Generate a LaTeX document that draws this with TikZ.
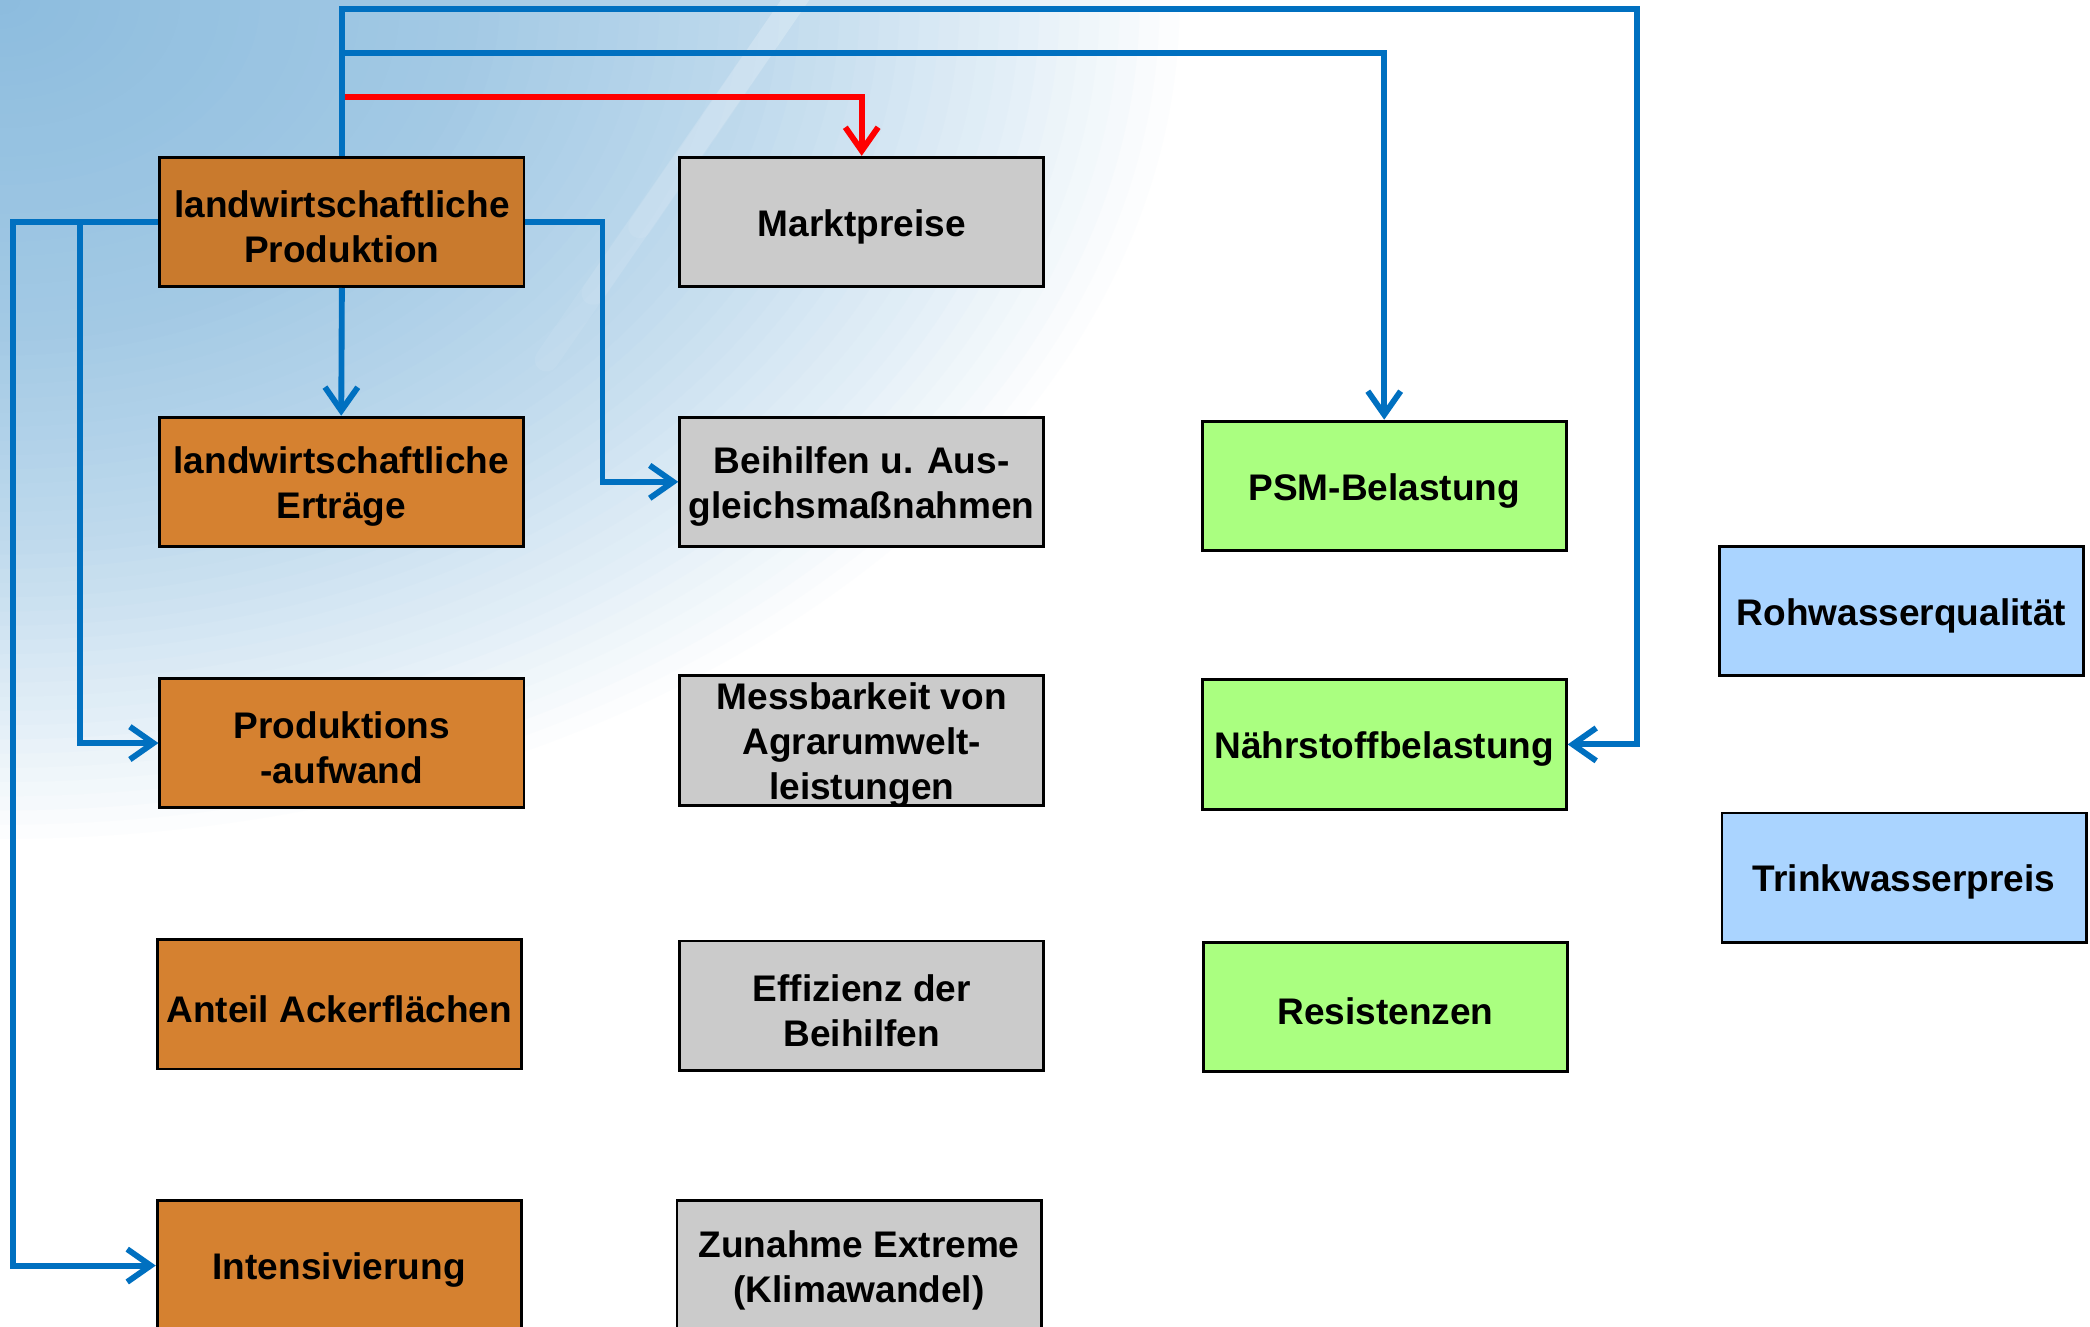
\documentclass[tikz,border=0pt]{standalone}
\usepackage{fontspec}
\setmainfont{Liberation Sans}
\usetikzlibrary{arrows.meta}
\definecolor{orng}{HTML}{D58130}
\definecolor{orngd}{HTML}{C97A2D}
\definecolor{gry}{HTML}{CBCBCB}
\definecolor{grn}{HTML}{AAFF80}
\definecolor{blu}{HTML}{AAD4FF}
\definecolor{connblue}{HTML}{0070C0}
\definecolor{skyA}{RGB}{140,188,222}
\begin{document}
\begin{tikzpicture}[x=0.01cm,y=-0.01cm,
  box/.style={draw=black, line width=0.6pt, minimum width=2.73cm, minimum height=0.97cm,
    inner sep=0pt, align=center},
  txt/.style={align=center, font=\fontsize{7.9}{9.6}\selectfont\bfseries, yshift=-1pt},
  orbox/.style={box, fill=orng},
  grbox/.style={box, fill=gry},
  gnbox/.style={box, fill=grn},
  blbox/.style={box, fill=blu},
  link/.style={draw=connblue, line width=1.25pt, -{Straight Barb[length=5pt,width=7pt,line width=1.25pt]}},
  redlink/.style={link, draw=red},
  streak/.style={white, opacity=0.07, line width=5pt, line cap=round}
]
\useasboundingbox (0,0) rectangle (1568,995);
\clip (0,0) rectangle (1568,995);
\fill[white] (0,0) rectangle (1568,995);
% sky background: stacked ellipses from outer (white) to inner (blue)
\foreach \i in {0,...,59}{
  \pgfmathsetmacro{\r}{1-\i/60}
  \pgfmathsetmacro{\p}{\r>=0.85 ? (1-\r)/0.15*25 : (\r>=0.65 ? 25+(0.85-\r)/0.2*30 : (\r>=0.4 ? 55+(0.65-\r)/0.25*25 : 80+(0.4-\r)/0.4*20))}
  \fill[skyA!\p!white] (0,0) ellipse ({900*\r} and {640*\r});
}
% faint tapered light streak
\coordinate (s0) at (600,-5);
\foreach \e in {(410,270),(445,220),(480,170),(515,120)}{
  \draw[streak] (s0) -- \e;
}

% column 1
\node[orbox, fill=orngd] (lp) at (256.5,166.5) {};
\node[orbox] (le) at (256,361.5) {};
\node[orbox] (pa) at (256.5,557.5) {};
\node[orbox] (aa) at (254.5,753.5) {};
\node[orbox] (iv) at (254.5,949.5) {};
% column 2
\node[grbox] (mp) at (646.5,166.5) {};
\node[grbox] (bh) at (646.5,361.5) {};
\node[grbox] (mb) at (646.5,555.5) {};
\node[grbox] (eb) at (646.5,754.5) {};
\node[grbox] (ze) at (644.5,949.5) {};
% column 3
\node[gnbox] (psm) at (1038.5,364.5) {};
\node[gnbox] (nb) at (1038.5,558.5) {};
\node[gnbox] (rs) at (1039.5,755.5) {};
% column 4
\node[blbox] (rw) at (1426.5,458.5) {};
\node[blbox] (tw) at (1428.5,658.5) {};

% texts
\node[txt] (lpT) at (lp.center) {landwirtschaftliche\\Produktion};
\node[txt] (leT) at (le.center) {landwirtschaftliche\\Erträge};
\node[txt] (paT) at (pa.center) {Produktions\\-aufwand};
\node[txt] (aaT) at (aa.center) {Anteil Ackerflächen};
\node[txt] (ivT) at (iv.center) {Intensivierung};
\node[txt] (mpT) at (mp.center) {Marktpreise};
\node[txt] (bhT) at (bh.center) {Beihilfen u. Aus-\\gleichsmaßnahmen};
\node[txt] (mbT) at (mb.center) {Messbarkeit von\\Agrarumwelt-\\leistungen};
\node[txt] (ebT) at (eb.center) {Effizienz der\\Beihilfen};
\node[txt] (zeT) at (ze.center) {Zunahme Extreme\\(Klimawandel)};
\node[txt] (psmT) at (psm.center) {PSM-Belastung};
\node[txt] (nbT) at (nb.center) {Nährstoffbelastung};
\node[txt] (rsT) at (rs.center) {Resistenzen};
\node[txt] (rwT) at (rw.center) {Rohwasserqualität};
\node[txt] (twT) at (tw.center) {Trinkwasserpreis};

% helper coordinates
\coordinate (ytop) at (0,7);
\coordinate (ymid) at (0,40);
\coordinate (yred) at (0,73);
\coordinate (xright) at (1228,0);
\coordinate (xbh) at (452,0);
\coordinate (xfar) at (10,0);
\coordinate (xnear) at (60,0);

% connectors
\draw[link] (lp.north) |- (xright |- ytop) |- (nb.east);
\draw[link] (lp.north |- ymid) -| (psm.north);
\draw[redlink] ([xshift=0.6pt]lp.north |- yred) -| (mp.north);
\draw[link] (lp.south) -- (le.north);
\draw[link] (lp.east) -- (lp.east -| xbh) |- (bh.west);
\draw[link] (lp.west) -- (lp.west -| xfar) |- (iv.west);
\draw[link] (lp.west -| xnear) |- (pa.west);
\end{tikzpicture}
\end{document}
